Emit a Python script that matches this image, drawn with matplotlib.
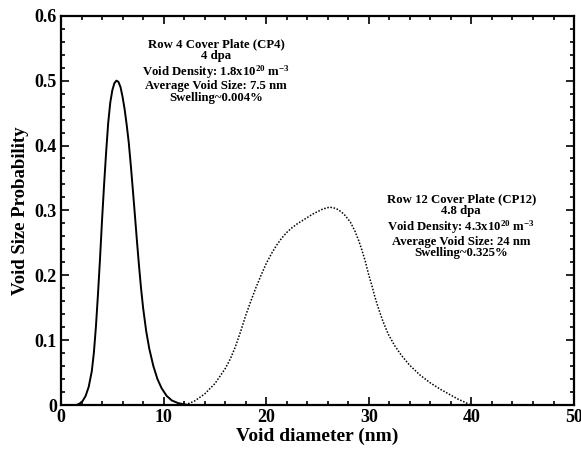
import matplotlib
matplotlib.use("Agg")
import matplotlib.pyplot as plt
from matplotlib.ticker import MultipleLocator, FixedLocator

plt.rcParams["font.family"] = ["Liberation Serif", "DejaVu Serif"]
plt.rcParams["font.weight"] = "bold"
plt.rcParams["mathtext.fontset"] = "custom"
plt.rcParams["mathtext.rm"] = "Liberation Serif:bold"
plt.rcParams["mathtext.bf"] = "Liberation Serif:bold"
plt.rcParams["mathtext.default"] = "bf"

# CP4 void size distribution
cp4_x = [0, 1.5, 1.8, 2.1, 2.4, 2.7, 3.0, 3.2, 3.4, 3.6, 3.8, 4.0, 4.2, 4.4,
         4.6, 4.8, 5.0, 5.2, 5.4, 5.6, 5.8, 6.0, 6.2, 6.4, 6.6, 6.8, 7.0, 7.2,
         7.4, 7.6, 7.8, 8.0, 8.3, 8.6, 9.0, 9.4, 9.8, 10.3, 10.8, 11.4, 12.0,
         12.4]
cp4_y = [0, 0, 0.002, 0.006, 0.014, 0.028, 0.052, 0.08, 0.12, 0.17, 0.225,
         0.285, 0.34, 0.39, 0.435, 0.466, 0.485, 0.496, 0.5, 0.498, 0.49,
         0.475, 0.456, 0.432, 0.405, 0.37, 0.332, 0.293, 0.253, 0.215, 0.18,
         0.15, 0.114, 0.087, 0.06, 0.04, 0.026, 0.014, 0.007, 0.003, 0.001, 0]

# CP12 void size distribution
cp12_x = [12.1, 13.0, 14.0, 15.0, 16.0, 16.5, 17.0, 17.5, 18.0, 18.5, 19.0,
          19.5, 20.0, 20.5, 21.0, 21.5, 22.0, 22.5, 23.0, 23.5, 24.0, 24.5,
          25.0, 25.5, 26.2, 26.8, 27.3, 27.7, 28.2, 28.65, 29.0, 29.3, 29.65,
          29.95, 30.3, 30.6, 31.0, 31.4, 31.9, 32.5, 33.2, 34.0, 35.0, 36.0,
          37.0, 37.9, 38.7, 39.4, 39.9]
cp12_y = [0.0, 0.006, 0.017, 0.033, 0.056, 0.071, 0.09, 0.113, 0.138, 0.16,
          0.181, 0.2, 0.218, 0.233, 0.246, 0.257, 0.266, 0.273, 0.279, 0.284,
          0.289, 0.294, 0.298, 0.302, 0.305, 0.303, 0.298, 0.292, 0.282,
          0.268, 0.254, 0.24, 0.222, 0.203, 0.184, 0.166, 0.146, 0.128, 0.109,
          0.092, 0.076, 0.061, 0.046, 0.034, 0.024, 0.016, 0.009, 0.004, 0.0]

x_ticks = [0, 10, 20, 30, 40, 50]
y_ticks = [0, 0.1, 0.2, 0.3, 0.4, 0.5, 0.6]
y_tick_labels = ["0", "0.1", "0.2", "0.3", "0.4", "0.5", "0.6"]

cp4_lines = ["Row 4 Cover Plate (CP4)", "4 dpa",
             "Void Density: 1.8x10$^{20}$ m$^{-3}$",
             "Average Void Size: 7.5 nm", "Swelling~0.004%"]
cp4_baselines = [0.552, 0.533, 0.507, 0.487, 0.469]
cp12_lines = ["Row 12 Cover Plate (CP12)", "4.8 dpa",
              "Void Density: 4.3x10$^{20}$ m$^{-3}$",
              "Average Void Size: 24 nm", "Swelling~0.325%"]
cp12_baselines = [0.313, 0.294, 0.269, 0.247, 0.229]

fig = plt.figure(figsize=(5.81, 4.5), dpi=100)
ax = fig.add_axes([0.105, 0.1, 0.883, 0.865])

ax.plot(cp4_x, cp4_y, color="black", linewidth=1.4)
ax.plot(cp12_x, cp12_y, color="black", linewidth=1.1, linestyle=(0, (1, 1.1)))

ax.set_xlim(0, 50)
ax.set_ylim(0, 0.6)
ax.xaxis.set_major_locator(FixedLocator(x_ticks))
ax.xaxis.set_minor_locator(MultipleLocator(2))
ax.yaxis.set_major_locator(FixedLocator(y_ticks))
ax.set_yticklabels(y_tick_labels)
ax.yaxis.set_minor_locator(MultipleLocator(0.02))
ax.tick_params(which="both", direction="in", top=True, right=True,
               labelsize=13, width=1.2)
ax.tick_params(which="major", length=6, pad=3)
ax.tick_params(which="minor", length=3)
for lab in ax.get_xticklabels() + ax.get_yticklabels():
    lab.set_fontweight("bold")
for sp in ax.spines.values():
    sp.set_linewidth(1.6)

ax.set_xlabel("Void diameter (nm)", fontsize=14, fontweight="bold", labelpad=1)
ax.set_ylabel("Void Size Probability", fontsize=13.5, fontweight="bold", labelpad=4)

# annotation blocks
for txt, yb in zip(cp4_lines, cp4_baselines):
    ax.text(15.1, yb, txt, ha="center", va="baseline", fontsize=9.2,
            fontweight="bold")
for txt, yb in zip(cp12_lines, cp12_baselines):
    ax.text(39.0, yb, txt, ha="center", va="baseline", fontsize=9.2,
            fontweight="bold")

fig.savefig("out.png", dpi=100)
